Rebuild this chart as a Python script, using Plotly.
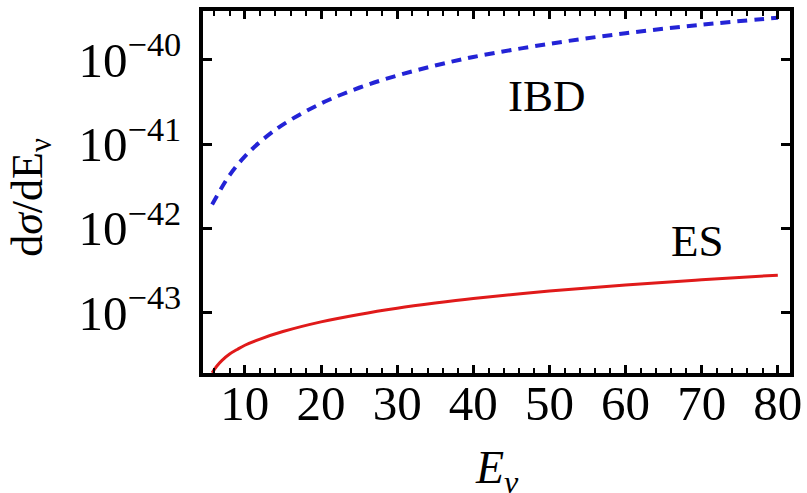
import plotly.graph_objects as go

# Neutrino energy grids (MeV) and differential cross sections (cm^2/MeV)
energy_ibd = [5.7, 8, 10, 12, 15, 20, 25, 30, 35, 40, 50, 60, 70, 80]
ibd = [1.91e-42, 4.28e-42, 7.11e-42, 1.06e-41, 1.70e-41, 3.03e-41, 4.66e-41,
       6.50e-41, 8.55e-41, 1.08e-40, 1.55e-40, 2.07e-40, 2.61e-40, 3.16e-40]

energy_es = [5.7, 6.3, 7, 8, 9, 10, 12, 15, 20, 25, 30, 35, 40, 50, 60, 70, 80]
es = [1.91e-44, 2.29e-44, 2.69e-44, 3.20e-44, 3.63e-44, 4.07e-44, 4.82e-44,
      5.92e-44, 7.71e-44, 9.46e-44, 1.12e-43, 1.29e-43, 1.46e-43, 1.79e-43,
      2.12e-43, 2.44e-43, 2.77e-43]

y_tick_vals = [1e-43, 1e-42, 1e-41, 1e-40]
y_tick_text = ["10<sup>\u221243</sup>", "10<sup>\u221242</sup>",
               "10<sup>\u221241</sup>", "10<sup>\u221240</sup>"]

serif = "Liberation Serif"

fig = go.Figure()
fig.add_trace(go.Scatter(
    x=energy_ibd, y=ibd, mode="lines", name="IBD",
    line=dict(color="#2323d6", width=4, dash="10px,7px", shape="spline"),
))
fig.add_trace(go.Scatter(
    x=energy_es, y=es, mode="lines", name="ES",
    line=dict(color="#e01a1a", width=3, shape="spline"),
))

# curve labels
fig.add_annotation(x=49.7, y=-40.43, text="IBD", showarrow=False,
                   font=dict(family=serif, size=45, color="black"))
fig.add_annotation(x=69.5, y=-42.15, text="ES", showarrow=False,
                   font=dict(family=serif, size=45, color="black"))

# axis titles
fig.add_annotation(xref="paper", yref="paper", x=0.5, y=-0.27,
                   xanchor="center", yanchor="middle", showarrow=False,
                   text="<i>E<sub>\u03bd</sub></i>",
                   font=dict(family=serif, size=46, color="black"))
fig.add_annotation(xref="paper", yref="paper", x=-0.294, y=0.485,
                   xanchor="center", yanchor="middle", showarrow=False,
                   textangle=-90,
                   text="d<i>\u03c3</i>/dE<sub>\u03bd</sub>",
                   font=dict(family=serif, size=44, color="black"))

axis_common = dict(
    showgrid=False, zeroline=False, automargin=False,
    showline=True, linecolor="black", linewidth=4, mirror="ticks",
    ticks="inside", tickcolor="black", tickwidth=3,
    tickfont=dict(family=serif, size=49, color="black"),
)

fig.update_xaxes(
    range=[4.5, 81.6], tickmode="linear", tick0=0, dtick=10, ticklen=8,
    minor=dict(tickmode="linear", tick0=0, dtick=2, ticks="inside",
               ticklen=5, tickwidth=2, tickcolor="black", showgrid=False),
    ticklabelstandoff=-16,
    **axis_common,
)
fig.update_yaxes(
    type="log", range=[-43.72, -39.42], tickmode="array",
    tickvals=y_tick_vals, ticktext=y_tick_text, ticklen=9,
    ticklabelstandoff=8,
    **axis_common,
)

fig.update_layout(
    width=807, height=493,
    margin=dict(l=203, r=17, t=11, b=120),
    paper_bgcolor="white", plot_bgcolor="white",
    showlegend=False,
)

fig.write_html("out.html")
